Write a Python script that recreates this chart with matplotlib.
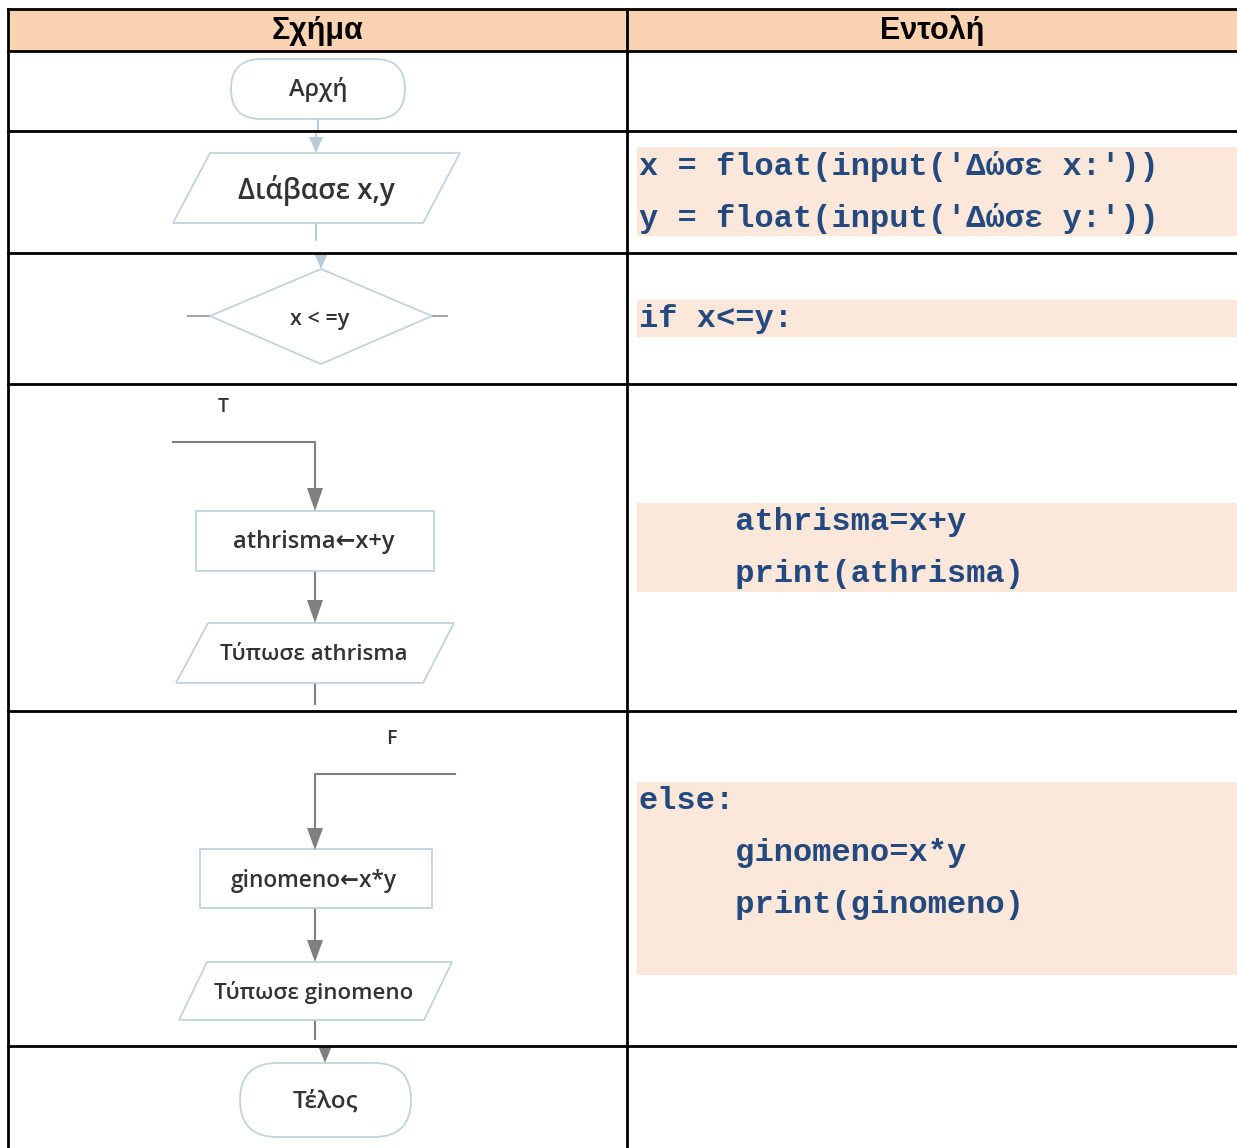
import matplotlib
matplotlib.use("Agg")
import matplotlib.pyplot as plt
from matplotlib.patches import Polygon, Rectangle, FancyBboxPatch

# ---------------- content ----------------
headers = ["Σχήμα", "Εντολή"]
row_bounds = [9, 51, 131, 253, 384, 711, 1046, 1148]

code_blocks = [
    [],
    ["x = float(input('Δώσε x:'))", "y = float(input('Δώσε y:'))"],
    ["if x<=y:"],
    ["     athrisma=x+y", "     print(athrisma)"],
    ["else:", "     ginomeno=x*y", "     print(ginomeno)"],
    [],
]
flow_labels = ["Αρχή", "Διάβασε x,y", "x < =y", "athrisma←x+y", "Τύπωσε athrisma",
               "ginomeno←x*y", "Τύπωσε ginomeno", "Τέλος"]
branch_labels = ["T", "F"]

# ---------------- style ----------------
W, H = 1237, 1148
HEADER_BG = "#FAD4B2"
CODE_BG = "#FCE8DA"
CODE_FG = "#24497E"
OUTLINE = "#C2D3DF"
LIGHT_ARROW = "#B7CBD9"
GRAY = "#7F7F7F"
TXT = "#333333"
FLOW_FONT = ["Open Sans", "DejaVu Sans"]

fig = plt.figure(figsize=(W / 100, H / 100), dpi=100)
ax = fig.add_axes([0, 0, 1, 1])
ax.set_xlim(0, W)
ax.set_ylim(H, 0)
ax.axis("off")

X_LEFT, X_MID, X_RIGHT = 8, 627, 1237

# header
ax.add_patch(Rectangle((X_LEFT, row_bounds[0]), X_RIGHT - X_LEFT, row_bounds[1] - row_bounds[0],
                       facecolor=HEADER_BG, edgecolor="none", zorder=1))
for txt, cx in zip(headers, [(X_LEFT + X_MID) / 2, (X_MID + X_RIGHT) / 2]):
    ax.text(cx, (row_bounds[0] + row_bounds[1]) / 2 + 1, txt, ha="center", va="center",
            fontsize=22, fontweight="bold", family=["Liberation Sans", "DejaVu Sans"], color="black", zorder=5)

# code highlight blocks (y extents) and line centres
code_boxes = [None, (147, 236), (300, 337), (503, 592), (782, 975), None]
code_line_y = [[], [167, 219], [319], [522, 574], [801, 853, 905], []]
for lines, box, ys in zip(code_blocks, code_boxes, code_line_y):
    if box is None:
        continue
    ax.add_patch(Rectangle((637, box[0]), X_RIGHT - 637, box[1] - box[0],
                           facecolor=CODE_BG, edgecolor="none", zorder=1))
    for line, y in zip(lines, ys):
        ax.text(639, y, line, ha="left", va="center", fontsize=23, fontweight="bold",
                family=["Liberation Mono", "DejaVu Sans Mono"], color=CODE_FG, zorder=5)

# table grid lines
LW = 2.0
ax.plot([X_LEFT, X_RIGHT], [row_bounds[0], row_bounds[0]], color="black", lw=LW, zorder=6)
for y in row_bounds[1:-1]:
    ax.plot([X_LEFT, X_RIGHT], [y, y], color="black", lw=LW, zorder=6)
ax.plot([X_LEFT, X_LEFT], [row_bounds[0], H], color="black", lw=LW, zorder=6)
ax.plot([X_MID, X_MID], [row_bounds[0], H], color="black", lw=LW, zorder=6)

# ---------------- flowchart ----------------
def para(top_y, bot_y, top_x0, top_x1, bot_x0, bot_x1):
    ax.add_patch(Polygon([(top_x0, top_y), (top_x1, top_y), (bot_x1, bot_y), (bot_x0, bot_y)],
                         closed=True, facecolor="white", edgecolor=OUTLINE, lw=1.3, zorder=3))

def stadium(x0, x1, y0, y1):
    r = (y1 - y0) / 2
    ax.add_patch(FancyBboxPatch((x0, y0), x1 - x0, y1 - y0,
                                boxstyle=f"round,pad=0,rounding_size={r}",
                                facecolor="white", edgecolor=OUTLINE, lw=1.3, zorder=3))

def tri(cx, y0, y1, half, color):
    ax.add_patch(Polygon([(cx - half, y0), (cx + half, y0), (cx, y1)], closed=True,
                         facecolor=color, edgecolor="none", zorder=4))

def vline(x, y0, y1, color, lw=1.5):
    ax.plot([x, x], [y0, y1], color=color, lw=lw, zorder=2, solid_capstyle="butt")

def label(x, y, s, size):
    ax.text(x, y, s, ha="center", va="center", fontsize=size, family=FLOW_FONT,
            fontweight="semibold", color=TXT, zorder=5)

# Start
stadium(231, 405, 59, 119)
label(318, 90, flow_labels[0], 17)
vline(318, 119, 131, LIGHT_ARROW)
vline(316, 131, 140, LIGHT_ARROW)
tri(316, 137, 153, 7, LIGHT_ARROW)

# Read
para(153, 223, 210, 460, 173, 423)
label(316, 190, flow_labels[1], 20)
vline(316, 223, 241, LIGHT_ARROW)

# Decision
tri(321, 254, 269, 6.5, LIGHT_ARROW)
ax.add_patch(Polygon([(321, 269), (432, 316), (321, 364), (210, 316)], closed=True,
                     facecolor="white", edgecolor=OUTLINE, lw=1.3, zorder=3))
ax.plot([188, 210], [316, 316], color="#A6A6A6", lw=1.5, zorder=2)
ax.plot([432, 447], [316, 316], color="#A6A6A6", lw=1.5, zorder=2)
label(320, 319, flow_labels[2], 15.5)

# True branch
label(223, 407, branch_labels[0], 14)
ax.plot([173, 315, 315], [442, 442, 495], color=GRAY, lw=1.5, zorder=2)
tri(315, 488, 511, 8, GRAY)
ax.add_patch(Rectangle((196, 511), 238, 60, facecolor="white", edgecolor=OUTLINE, lw=1.3, zorder=3))
label(314, 542, flow_labels[3], 17)
vline(315, 571, 605, GRAY)
tri(315, 600, 623, 8, GRAY)
para(623, 683, 208, 454, 176, 423)
label(314, 654, flow_labels[4], 16)
vline(315, 683, 705, GRAY)

# False branch
label(391, 739, branch_labels[1], 14)
ax.plot([455, 315, 315], [774, 774, 835], color=GRAY, lw=1.5, zorder=2)
tri(315, 828, 850, 8, GRAY)
ax.add_patch(Rectangle((200, 849), 232, 59, facecolor="white", edgecolor=OUTLINE, lw=1.3, zorder=3))
label(314, 881, flow_labels[5], 16.3)
vline(315, 908, 945, GRAY)
tri(315, 940, 962, 8, GRAY)
para(962, 1020, 207, 452, 179, 424)
label(314, 993, flow_labels[6], 16)
vline(315, 1020, 1040, GRAY)

# End
tri(325, 1047, 1063, 6.5, GRAY)
stadium(240, 411, 1063, 1137)
label(325, 1102, flow_labels[7], 17.5)

fig.savefig("out.png", dpi=100, facecolor="white")
